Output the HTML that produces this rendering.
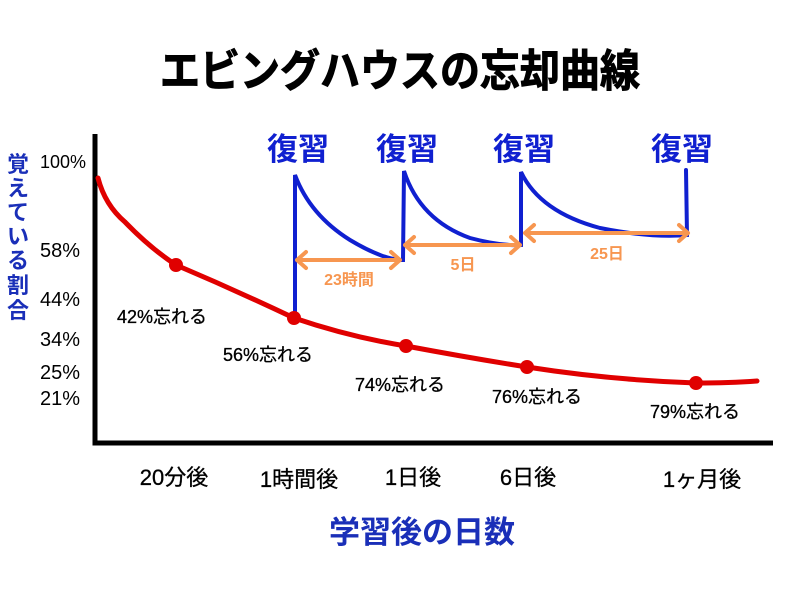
<!DOCTYPE html>
<html><head><meta charset="utf-8"><style>
html,body{margin:0;padding:0;background:#fff;width:800px;height:600px;overflow:hidden}
svg{display:block}
text{font-family:"Liberation Sans","Noto Sans CJK JP",sans-serif}
</style></head><body>
<svg width="800" height="600" viewBox="0 0 800 600">
<text x="400" y="86" text-anchor="middle" font-size="44" font-weight="bold" fill="#000" stroke="#000" stroke-width="1" textLength="480" lengthAdjust="spacingAndGlyphs">エビングハウスの忘却曲線</text>
<polyline points="95,134 95,443 773,443" fill="none" stroke="#000" stroke-width="5"/>
<g font-size="20" fill="#000">
<text x="40" y="168" font-size="18" textLength="46" lengthAdjust="spacingAndGlyphs">100%</text>
<text x="40" y="257">58%</text>
<text x="40" y="306">44%</text>
<text x="40" y="346">34%</text>
<text x="40" y="379">25%</text>
<text x="40" y="405">21%</text>
</g>
<g font-size="22" font-weight="bold" fill="#1a2fb8">
<text x="18" y="172" text-anchor="middle">覚</text>
<text x="18" y="196" text-anchor="middle">え</text>
<text x="18" y="220" text-anchor="middle">て</text>
<text x="18" y="244" text-anchor="middle">い</text>
<text x="18" y="268" text-anchor="middle">る</text>
<text x="18" y="293" text-anchor="middle">割</text>
<text x="18" y="318" text-anchor="middle">合</text>
</g>
<g fill="none" stroke="#1020d0" stroke-width="4" stroke-linecap="round">
<path d="M295,318 L295,175 Q310,215 350,240 Q380,258 400,260 L403,260 L404,171 Q420,220 470,238 Q500,246 521,245 L521,172 Q540,212 600,228 Q650,238 687,235 L686,170"/>
</g>
<g fill="none" stroke="#f79650" stroke-width="4" stroke-linecap="round" stroke-linejoin="round">
<path d="M297,260 L400,260 M306,252 L297,260 L306,268 M391,252 L400,260 L391,268"/>
<path d="M405,245 L520,245 M414,237 L405,245 L414,253 M511,237 L520,245 L511,253"/>
<path d="M525,233 L688,233 M534,225 L525,233 L534,241 M679,225 L688,233 L679,241"/>
</g>
<g font-size="16" font-weight="bold" fill="#f79650" text-anchor="middle">
<text x="349" y="285">23時間</text>
<text x="463" y="270">5日</text>
<text x="607" y="259">25日</text>
</g>
<g font-size="31" font-weight="bold" fill="#1020d0" text-anchor="middle">
<text x="298" y="160">復習</text>
<text x="407" y="160">復習</text>
<text x="524" y="160">復習</text>
<text x="682" y="160">復習</text>
</g>
<path d="M98,178 Q105,205 125,222 Q150,248 176,265 Q235,290 294,318 Q350,337 406,346 Q470,358 527,367 Q610,380 696,383 Q730,383 757,381" fill="none" stroke="#e00000" stroke-width="5" stroke-linecap="round"/>
<g fill="#e00000">
<circle cx="176" cy="265" r="7"/><circle cx="294" cy="318" r="7"/><circle cx="406" cy="346" r="7"/><circle cx="527" cy="367" r="7"/><circle cx="696" cy="383" r="7"/>
</g>
<g font-size="18" fill="#000" stroke="#000" stroke-width="0.3">
<text x="117" y="323">42%忘れる</text>
<text x="223" y="361">56%忘れる</text>
<text x="355" y="391">74%忘れる</text>
<text x="492" y="403">76%忘れる</text>
<text x="650" y="418">79%忘れる</text>
</g>
<g font-size="22" fill="#000" stroke="#000" stroke-width="0.3" text-anchor="middle">
<text x="174" y="485">20分後</text>
<text x="299" y="487">1時間後</text>
<text x="413" y="485">1日後</text>
<text x="528" y="485">6日後</text>
<text x="702" y="487">1ヶ月後</text>
</g>
<text x="422" y="543" text-anchor="middle" font-size="31" font-weight="bold" fill="#1a2fb8">学習後の日数</text>
</svg>
</body></html>
